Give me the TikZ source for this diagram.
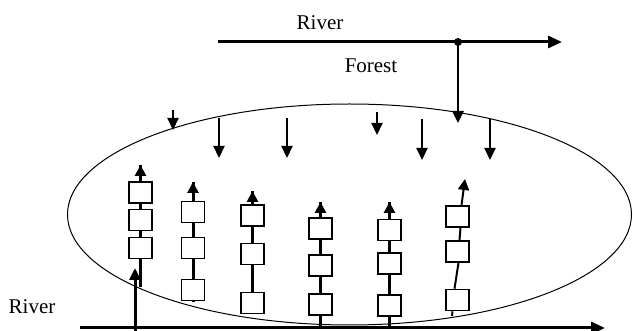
\documentclass[tikz,border=0pt]{standalone}
\usepackage{fontspec}
\setmainfont{Liberation Serif}
\usetikzlibrary{arrows.meta,shapes.geometric}
\tikzset{
  lbl/.style={font=\fontsize{21}{25}\selectfont, inner sep=0pt, anchor=base},
  riverline/.style={line width=3pt, -{Triangle[length=14pt,width=12pt]}},
  drop/.style={line width=2.2pt, -{Triangle[length=12pt,width=11pt]}},
  chainbox/.style={draw, fill=white, line width=1.6pt, minimum width=23pt, minimum height=21pt, inner sep=0pt},
  chain/.style={line width=3pt},
  thinchain/.style={line width=2pt},
  up/.style={-{Triangle[length=11pt,width=11pt]}},
}
\begin{document}
\begin{tikzpicture}[x=1pt,y=-1pt]
\useasboundingbox (0,0) rectangle (633,331);
% forest area
\node[draw, ellipse, line width=1pt, minimum width=564pt, minimum height=221pt, inner sep=0pt] (area) at (349.5,214.5) {};
% labels
\node[lbl] (riverTop) at (320,30) {River};
\node[lbl] (forest) at (371,73) {Forest};
\node[lbl] (riverBot) at (32,314) {River};
% top river
\coordinate (rt0) at (218,42);
\coordinate (rt1) at (562,42);
\coordinate (jn) at (458,42);
\coordinate (jnEnd) at (458,123);
\draw[riverline] (rt0) -- (rt1);
\fill (jn) circle (4pt);
\draw[line width=2.5pt, -{Triangle[length=12pt,width=11pt]}] (jn) -- (jnEnd);
% bottom river
\coordinate (rb0) at (80,328);
\coordinate (rb1) at (605,328);
\draw[riverline] (rb0) -- (rb1);
\coordinate (la0) at (135,331);
\coordinate (la1) at (135,268);
\draw[line width=3pt, -{Triangle[length=12pt,width=11pt]}] (la0) -- (la1);
% drops
\foreach \i/\x/\a/\b in {1/173/110/130, 2/219/118/158, 3/287/118/158, 4/377/112/135, 5/422/119/160, 6/490/119/160}{
  \coordinate (d\i a) at (\x,\a);
  \coordinate (d\i b) at (\x,\b);
  \draw[drop] (d\i a) -- (d\i b);
}
% column 1
\coordinate (t1) at (140.5,165);
\coordinate (e1) at (140.5,287);
\draw[chain] (t1) -- (e1);
\draw[chain, up] (140.5,182) -- (t1);
\node[chainbox] (b11) at (140.5,192.5) {};
\node[chainbox] (b12) at (140.5,220) {};
\node[chainbox] (b13) at (140.5,248) {};
% column 2
\coordinate (t2) at (193,182);
\coordinate (e2) at (193,302);
\draw[chain] (t2) -- (e2);
\draw[chain, up] (193,202) -- (t2);
\node[chainbox] (b21) at (193,212) {};
\node[chainbox] (b22) at (193,248) {};
\node[chainbox] (b23) at (193,290) {};
% column 3
\coordinate (t3) at (252.5,191);
\coordinate (e3) at (252.5,303);
\draw[chain] (t3) -- (e3);
\draw[chain, up] (252.5,205) -- (t3);
\node[chainbox] (b31) at (252.5,215.5) {};
\node[chainbox] (b32) at (252.5,254) {};
\node[chainbox] (b33) at (252.5,303) {};
% column 4
\coordinate (t4) at (320.5,202);
\coordinate (e4) at (320.5,328);
\draw[chain] (t4) -- (e4);
\draw[chain, up] (320.5,218) -- (t4);
\node[chainbox] (b41) at (320.5,228.5) {};
\node[chainbox] (b42) at (320.5,265.5) {};
\node[chainbox] (b43) at (320.5,304.5) {};
% column 5
\coordinate (t5) at (389.5,202);
\coordinate (e5) at (389.5,328);
\draw[chain] (t5) -- (e5);
\draw[chain, up] (389.5,220) -- (t5);
\node[chainbox] (b51) at (389.5,230) {};
\node[chainbox] (b52) at (389.5,263.5) {};
\node[chainbox] (b53) at (389.5,305.5) {};
% column 6
\node[chainbox] (b61) at (457.5,216.5) {};
\node[chainbox] (b62) at (457.5,251.5) {};
\node[chainbox] (b63) at (457.5,300) {};
\coordinate (t6) at (465,179);
\coordinate (e6) at (452,316);
\draw[thinchain, up] ([xshift=4pt]b61.north) -- (t6);
\draw[thinchain] ([xshift=3pt]b61.south) -- ([xshift=2pt]b62.north);
\draw[thinchain] ([xshift=1pt]b62.south) -- ([xshift=-3pt]b63.north);
\draw[thinchain] ([xshift=-5pt]b63.south) -- (e6);
\end{tikzpicture}
\end{document}
